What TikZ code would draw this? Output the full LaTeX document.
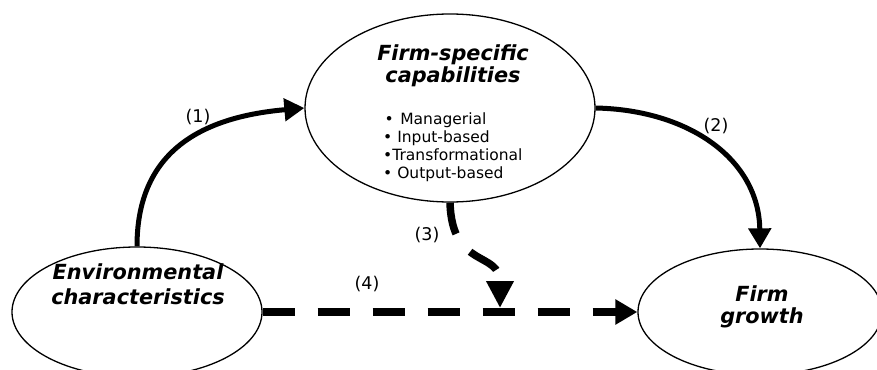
\documentclass[tikz,border=0pt]{standalone}
\usepackage{fontspec}
\setmainfont{DejaVu Sans}
\usetikzlibrary{arrows.meta,shapes.geometric}
\begin{document}
\begin{tikzpicture}[x=1pt,y=-1pt,
  bubble/.style={draw,ellipse,line width=1.3pt,inner sep=0pt},
  title/.style={font=\bfseries\itshape\fontsize{20.8}{22}\selectfont,align=center,inner sep=0pt},
  lbl/.style={font=\fontsize{17.5}{19}\selectfont,inner sep=0pt},
  flow/.style={line width=5pt,-{Triangle[length=20pt,width=22pt]}},
  dflow/.style={line width=7.5pt,dash pattern=on 32pt off 23pt,-{Triangle[length=22pt,width=24pt]}},
  dflowbig/.style={dflow,-{Triangle[length=27pt,width=26pt]}}]
\useasboundingbox (0,0) rectangle (877,369);

% ellipses
\node[bubble,minimum width=290pt,minimum height=188pt] (cap) at (450,108) {};
\node[bubble,minimum width=250pt,minimum height=130pt] (env) at (137,312) {};
\node[bubble,minimum width=244pt,minimum height=126pt] (gro) at (760,312) {};

% texts
\node[title] (capt) at (453,66) {Firm-specific\\capabilities};
\node[font=\fontsize{15.5}{18}\selectfont,align=left,inner sep=0pt,anchor=west] (list) at (383,147)
  {\hspace{1.5pt}•\hspace{6.5pt}Managerial\\• Input-based\\•Transformational\\• Output-based};
\node[title,font=\bfseries\itshape\fontsize{20.8}{25}\selectfont] (envt) at (138,284.5) {Environmental\\characteristics};
\node[title] (grot) at (762,306.5) {Firm\\growth};

% labels
\node[lbl] (l1) at (198,117) {(1)};
\node[lbl] (l2) at (716,126) {(2)};
\node[lbl] (l3) at (427,235) {(3)};
\node[lbl] (l4) at (367,284) {(4)};

% connectors
\coordinate (t3) at (500,308);
\draw[flow] (env.north) .. controls (137,160) and (190,118) .. (cap.west);
\draw[flow] (cap.east) .. controls (690,110) and (759,160) .. (gro.north);
\draw[dflow] (env.east) -- (gro.west);
\draw[dflowbig] (cap.south) .. controls (452,270) and (500,250) .. (t3);
\end{tikzpicture}
\end{document}
